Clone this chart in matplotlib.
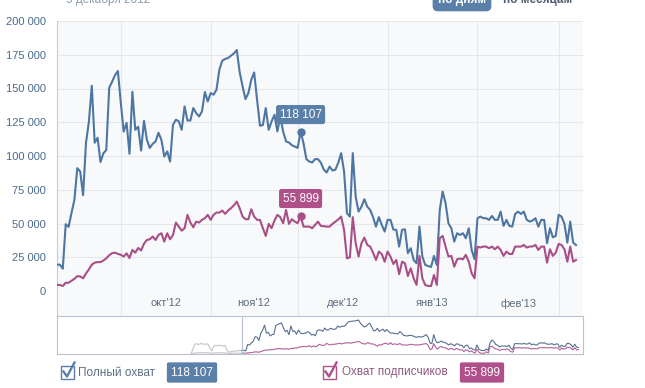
import matplotlib
matplotlib.use('Agg')
import matplotlib.pyplot as plt
import matplotlib.dates as mdates
import pandas as pd
from matplotlib.patches import Rectangle
from matplotlib.lines import Line2D

plt.rcParams['font.family'] = ['Liberation Sans', 'DejaVu Sans']

# данные: охват по дням, начиная с 9 сентября 2012
start = '2012-09-09'
full_reach = [
    19500, 19500, 16500, 49500, 47500, 57800, 67500, 91000, 88500, 71000,
    109800, 125400, 152000, 109800, 113500, 95500, 102000, 104500, 150500, 155000,
    159800, 163000, 139500, 118000, 124600, 101600, 147600, 119400, 121700, 104000,
    126000, 112000, 106000, 109000, 110800, 117200, 112000, 99600, 103400, 95900,
    123100, 126900, 125600, 119400, 136700, 126300, 126300, 135500, 131800, 129300,
    133000, 147400, 140400, 146600, 145400, 149100, 164000, 170600, 171900, 172600,
    174300, 176000, 178500, 162000, 151600, 142200, 146600, 156500, 161900, 141700,
    122400, 122900, 135500, 119400, 125600, 130600, 118200, 129300, 118000, 110800,
    110000, 108000, 107000, 106000, 118107, 109600, 97700, 95900, 95200, 97700,
    97700, 95000, 90000, 87800, 92200, 89300, 89800, 95000, 102100, 88500,
    57600, 55100, 102100, 70000, 58800, 62500, 68000, 62500, 60100, 54700,
    47700, 54700, 49000, 44000, 52700, 52700, 45500, 45300, 32900, 45300,
    45700, 28000, 31700, 23000, 20500, 47700, 25500, 19300, 18500, 17800,
    26000, 19300, 60100, 73700, 65000, 50000, 46500, 36600, 42800, 41500,
    42800, 39100, 46500, 30400, 23500, 53900, 55100, 53900, 53900, 52700,
    55600, 52700, 52700, 58800, 48200, 52700, 48200, 47700, 57100, 58800,
    57100, 58800, 52700, 51400, 52200, 53900, 47700, 52700, 52700, 35400,
    46500, 39800, 40800, 56400, 55100, 49700, 35800, 51400, 35800, 34000,
]
subs_reach = [
    4500, 4500, 3700, 6100, 6100, 7600, 9000, 11000, 10800, 9400,
    13000, 16000, 19500, 21000, 21400, 21400, 22600, 24200, 26500, 28000,
    28400, 27500, 26800, 25500, 27900, 24400, 30400, 28400, 31900, 30000,
    35000, 37800, 38300, 40300, 37800, 41500, 42800, 36600, 42800, 38300,
    41500, 50700, 47700, 44700, 46500, 56400, 50700, 47200, 51400, 50700,
    52700, 53900, 56400, 52700, 56400, 58100, 58100, 59600, 57100, 59600,
    61300, 63500, 66200, 61300, 55100, 53200, 53200, 60600, 55100, 52700,
    52700, 46500, 40800, 49700, 46500, 52200, 56400, 54700, 50200, 60100,
    49700, 53200, 51400, 50200, 55899, 47700, 47700, 47700, 46500, 49000,
    51400, 48200, 48000, 47700, 47700, 49700, 51400, 53000, 55100, 45300,
    24200, 25000, 54700, 35400, 25500, 35400, 39600, 34100, 32900, 28400,
    23000, 29200, 27400, 21700, 29200, 25500, 20000, 23000, 12500, 21700,
    20500, 11100, 16800, 9400, 4500, 26000, 9400, 4500, 3700, 3700,
    11900, 4500, 39100, 40800, 32900, 25500, 26000, 18000, 23500, 24000,
    23500, 26800, 21700, 13100, 9400, 32900, 32200, 32900, 32900, 31700,
    32900, 30900, 32900, 30400, 26000, 29200, 27400, 27400, 32900, 32900,
    32900, 34100, 32200, 32900, 33000, 34100, 30400, 32900, 32900, 21000,
    30900, 26000, 28400, 34900, 34100, 30900, 21700, 32900, 21700, 23000,
]
# данные до выбранного периода (серые в навигаторе)
early_full = [2000, 30000, 52000, 54000, 50000, 55000, 53000, 51000, 54000, 50000,
              30000, 18000, 40000, 45000, 44000, 46000, 43000, 42000, 45000, 20000,
              10000, 12000, 15000, 14000, 16000, 18000, 17000]
early_subs = [500, 3000, 5000, 6000, 5500, 6000, 6500, 6000, 7000, 6500,
              5000, 4000, 5500, 6000, 6000, 6500, 6000, 5500, 6000, 4000,
              3000, 3500, 4000, 3500, 4000, 4500, 4500]
month_labels = ["окт'12", "ноя'12", "дек'12", "янв'13", "фев'13"]
yticks = list(range(0, 200001, 25000))
marker_day = 84
full_name = 'Полный охват'
subs_name = 'Охват подписчиков'

BLUE = '#4e76a2'
MAG = '#a94f87'
BLUE_BOX = '#5a7fa8'
MAG_BOX = '#b0508a'
GRID = '#e4e8ed'
BG = '#f8f9fb'
W, H = 645, 388


def fx(x):
    return x / W


def fy(y):
    return 1 - y / H


def fmt(v):
    return '{:,}'.format(v).replace(',', ' ')


dates = mdates.date2num(pd.date_range(start, periods=len(full_reach), freq='D'))
early_dates = mdates.date2num(pd.date_range(end=pd.Timestamp(start) - pd.Timedelta(days=1),
                                            periods=len(early_full), freq='D'))
x0 = dates[0]
x1 = x0 + 181.4
bounds = mdates.date2num(pd.date_range('2012-10-01', '2013-03-01', freq='MS'))
mids = [(bounds[i] + bounds[i + 1]) / 2 for i in range(len(bounds) - 1)]

fig = plt.figure(figsize=(6.45, 3.88), dpi=100)

# основной график
ax = fig.add_axes([fx(57), fy(291), (583 - 57) / W, (291 - 21) / H])
ax.set_facecolor(BG)
ax.set_xlim(x0, x1)
ax.set_ylim(0, 200000)
for v in yticks:
    ax.axhline(v, color=GRID, lw=0.8, zorder=0)
for b in bounds:
    ax.axvline(b, color=GRID, lw=0.8, zorder=0)
ax.plot(dates, full_reach, color=BLUE, lw=1.5, zorder=3)
ax.plot(dates, subs_reach, color=MAG, lw=1.5, zorder=3)
ax.set_yticks(yticks)
ax.set_yticklabels([fmt(v) for v in yticks])
ax.set_xticks([])
ax.tick_params(axis='y', length=0, pad=8, labelsize=8, labelcolor='#4a6a8f')
for s in ['top', 'right', 'bottom']:
    ax.spines[s].set_visible(False)
ax.spines['left'].set_color('#c3cdd8')

# подсказки
for series, color, boxc in [(full_reach, BLUE, BLUE_BOX), (subs_reach, MAG, MAG_BOX)]:
    xd, yv = dates[marker_day], series[marker_day]
    ax.plot(xd, yv, 'o', ms=5, color=color, zorder=4)
    ax.annotate(fmt(yv), (xd, yv), xytext=(0, 17), textcoords='offset pixels',
                ha='center', va='center', color='white', fontsize=8.5, zorder=5,
                bbox=dict(boxstyle='round,pad=0.3,rounding_size=0.2', fc=boxc, ec='none'))

# полоса с подписями месяцев
axl = fig.add_axes([fx(57), fy(316), (583 - 57) / W, (316 - 291) / H])
axl.set_facecolor(BG)
axl.set_xlim(x0, x1)
axl.set_ylim(0, 1)
for b in bounds:
    axl.axvline(b, color=GRID, lw=0.8)
for m, lab in zip(mids, month_labels):
    axl.text(m, 0.5, lab, ha='center', va='center', fontsize=8, color='#5d6d80')
axl.set_xticks([])
axl.set_yticks([])
for s in ['top', 'right', 'bottom']:
    axl.spines[s].set_visible(False)
axl.spines['left'].set_color('#c3cdd8')

# навигатор
axn = fig.add_axes([fx(57), fy(354), (583 - 57) / W, (354 - 316) / H])
axn.set_facecolor('white')
axn.set_xlim(x0 - 98.4, x1)
axn.set_ylim(0, 200000)
axn.plot(list(early_dates) + [x0], early_full + [full_reach[0]], color='#c4c4c4', lw=0.8)
axn.plot(list(early_dates) + [x0], early_subs + [subs_reach[0]], color='#c4c4c4', lw=0.8)
axn.plot(dates, full_reach, color='#56708f', lw=0.8)
axn.plot(dates, subs_reach, color='#b0609a', lw=0.8)
axn.axvline(x0, color='#b8c3cf', lw=0.9)
axn.set_xticks([])
axn.set_yticks([])
for s in axn.spines.values():
    s.set_color('#b8c3cf')

# легенда
def checkbox(x, color):
    fig.add_artist(Rectangle((fx(x), fy(379)), 13 / W, 13 / H, transform=fig.transFigure,
                             fc='white', ec=color, lw=1.0))
    fig.add_artist(Line2D([fx(x + 2.5), fx(x + 6), fx(x + 13.5)], [fy(371.5), fy(376.5), fy(362.5)],
                          transform=fig.transFigure, color=color, lw=1.7))


checkbox(61, BLUE_BOX)
fig.text(fx(78), fy(372.5), full_name, ha='left', va='center', fontsize=8.5, color='#5c6e84')
fig.text(fx(192), fy(372.5), fmt(full_reach[marker_day]), ha='center', va='center', fontsize=8.5,
         color='white', bbox=dict(boxstyle='round,pad=0.35,rounding_size=0.15', fc=BLUE_BOX, ec='none'))
checkbox(323, MAG_BOX)
fig.text(fx(342), fy(372.5), subs_name, ha='left', va='center', fontsize=8.5, color='#8c5a7c')
fig.text(fx(482), fy(372.5), fmt(subs_reach[marker_day]), ha='center', va='center', fontsize=8.5,
         color='white', bbox=dict(boxstyle='round,pad=0.35,rounding_size=0.15', fc=MAG_BOX, ec='none'))

# обрезанная шапка сверху
fig.text(fx(66), fy(3), '5 декабря 2012', ha='left', va='baseline', fontsize=8.5, color='#8a9bb0')
fig.text(fx(462), fy(3), 'по дням', ha='center', va='baseline', fontsize=8.5, color='white',
         weight='bold', bbox=dict(boxstyle='round,pad=0.45', fc=BLUE_BOX, ec='none'))
fig.text(fx(538), fy(3), 'по месяцам', ha='center', va='baseline', fontsize=8.5, color='#4b5d72',
         weight='bold')

fig.savefig('out.png', dpi=100)
